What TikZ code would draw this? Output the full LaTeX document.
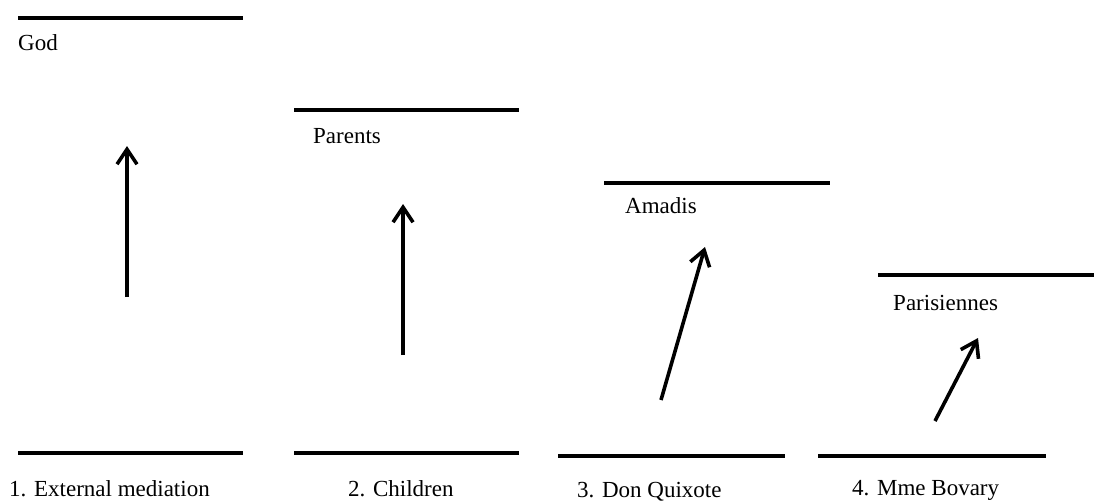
\documentclass[tikz,border=0pt]{standalone}
\usepackage{fontspec}
\setmainfont{Liberation Serif}
\usetikzlibrary{arrows.meta}
\begin{document}
\begin{tikzpicture}[x=1pt,y=-1pt,
  level/.style={line width=4pt},
  lbl/.style={anchor=base west,inner sep=0pt,font=\fontsize{23}{28}\selectfont},
  move/.style={line width=3.6pt,-{Straight Barb[length=15pt,width=20pt,line width=3.6pt]}}]
\useasboundingbox (0,0) rectangle (1094,501);
% top lines
\coordinate (t1a) at (18,18);   \coordinate (t1b) at (243,18);
\coordinate (t2a) at (294,110); \coordinate (t2b) at (519,110);
\coordinate (t3a) at (604,183); \coordinate (t3b) at (830,183);
\coordinate (t4a) at (878,275); \coordinate (t4b) at (1094,275);
\draw[level] (t1a) -- (t1b);
\draw[level] (t2a) -- (t2b);
\draw[level] (t3a) -- (t3b);
\draw[level] (t4a) -- (t4b);
% bottom lines
\coordinate (b1a) at (18,453);  \coordinate (b1b) at (243,453);
\coordinate (b2a) at (294,453); \coordinate (b2b) at (519,453);
\coordinate (b3a) at (558,456); \coordinate (b3b) at (785,456);
\coordinate (b4a) at (818,456); \coordinate (b4b) at (1046,456);
\draw[level] (b1a) -- (b1b);
\draw[level] (b2a) -- (b2b);
\draw[level] (b3a) -- (b3b);
\draw[level] (b4a) -- (b4b);
% labels
\node[lbl] (god) at (18,50) {God};
\node[lbl] (parents) at (313,143) {Parents};
\node[lbl] (amadis) at (625,213) {Amadis};
\node[lbl] (paris) at (893,310) {Parisiennes};
\node[lbl] (l1) at (9,496) {1. External mediation};
\node[lbl] (l2) at (348,496) {2. Children};
\node[lbl] (l3) at (577,497) {3. Don Quixote};
\node[lbl] (l4) at (852,495) {4. Mme Bovary};
% arrows
\coordinate (a1s) at (127,297); \coordinate (a1e) at (127,146);
\coordinate (a2s) at (403,355); \coordinate (a2e) at (403,204);
\coordinate (a3s) at (661,400); \coordinate (a3e) at (705,247);
\coordinate (a4s) at (935,421); \coordinate (a4e) at (978,338);
\draw[move] (a1s) -- (a1e);
\draw[move] (a2s) -- (a2e);
\draw[move] (a3s) -- (a3e);
\draw[move] (a4s) -- (a4e);
\end{tikzpicture}
\end{document}
